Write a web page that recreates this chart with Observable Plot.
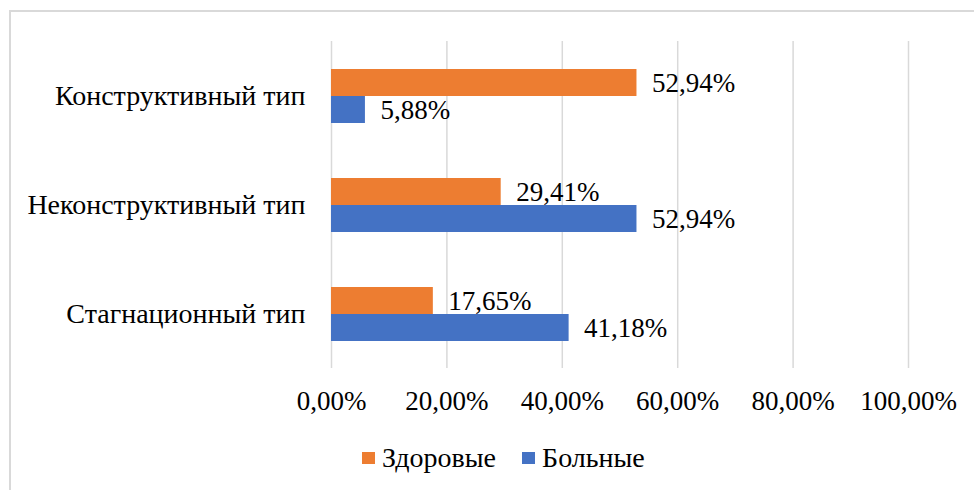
<!DOCTYPE html>
<html>
<head>
<meta charset="utf-8">
<script src="https://cdn.jsdelivr.net/npm/d3@7"></script>
<script src="https://cdn.jsdelivr.net/npm/@observablehq/plot@0.6"></script>
<style>
  html, body { margin: 0; padding: 0; background: #fff; overflow: hidden; }
  #wrap { position: relative; width: 974px; height: 490px; font-family: "Liberation Serif"; }
  #frame { position: absolute; left: 9px; top: 10px; width: 1000px; height: 520px; border: 2px solid #d9d9d9; pointer-events: none; box-sizing: border-box; }
  #chart { position: absolute; left: 0; top: 0; }
  #legend { position: absolute; left: 362px; top: 440px; height: 36px; display: flex; align-items: center; font-size: 28px; color: #000; }
  .item { display: flex; align-items: center; margin-right: 26px; }
  .sw { width: 13px; height: 12px; margin-right: 7px; }
</style>
</head>
<body>
<div id="wrap">
  <div id="frame"></div>
  <div id="chart"></div>
  <div id="legend"></div>
</div>
<script>
// Response types (top to bottom)
const categories = ["Конструктивный тип", "Неконструктивный тип", "Стагнационный тип"];
// Groups
const series = ["Здоровые", "Больные"];
const colors = ["#ED7D31", "#4472C4"];
// Shares, percent
const healthy = [52.94, 29.41, 17.65];
const sick = [5.88, 52.94, 41.18];
const xTicks = [0, 20, 40, 60, 80, 100];

const FONT = "Liberation Serif";
const fmt = v => v.toFixed(2).replace(".", ",") + "%";

const rows = [];
categories.forEach((c, i) => {
  rows.push({category: c, series: series[0], value: healthy[i]});
  rows.push({category: c, series: series[1], value: sick[i]});
});

const chart = Plot.plot({
  width: 974,
  height: 490,
  marginLeft: 331,
  marginRight: 66,
  marginTop: 40,
  marginBottom: 122,
  style: {fontFamily: FONT, fontSize: "27px", color: "#000", background: "transparent"},
  x: {domain: [0, 100], label: null},
  y: {domain: series, paddingInner: 0, paddingOuter: 0.95, axis: null},
  fy: {domain: categories, padding: 0, label: null},
  color: {domain: series, range: colors},
  marks: [
    Plot.ruleX(xTicks, {stroke: "#d9d9d9", strokeWidth: 1.5}),
    Plot.axisX(xTicks, {tickFormat: fmt, tickSize: 0, tickPadding: 22, fontSize: 27, label: null}),
    Plot.axisFy({anchor: "left", tickSize: 0, tickPadding: 26, fontSize: 28, label: null}),
    Plot.barX(rows, {x: "value", y: "series", fy: "category", fill: "series", inset: 0}),
    Plot.text(rows, {x: "value", y: "series", fy: "category", text: d => fmt(d.value), dx: 15, textAnchor: "start", fill: "#000", fontSize: 27})
  ]
});
document.getElementById("chart").appendChild(chart);

const legend = document.getElementById("legend");
series.forEach((s, i) => {
  const item = document.createElement("div");
  item.className = "item";
  const sw = document.createElement("div");
  sw.className = "sw";
  sw.style.background = colors[i];
  const t = document.createElement("span");
  t.textContent = s;
  item.appendChild(sw);
  item.appendChild(t);
  legend.appendChild(item);
});
</script>
</body>
</html>
